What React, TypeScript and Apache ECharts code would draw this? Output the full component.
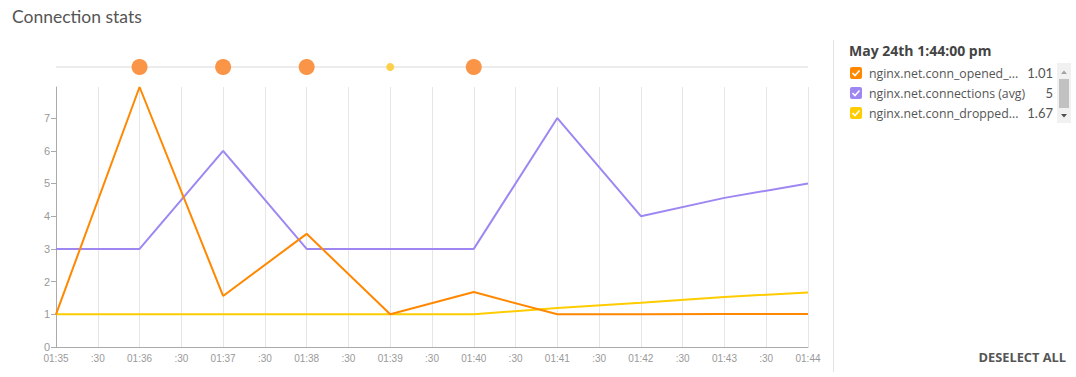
import React, { useEffect, useRef } from "react";
import * as echarts from "echarts";

const TIMES_SEC = [0, 60, 120, 180, 240, 300, 360, 420, 480, 540];
const OPENED = [1, 7.95, 1.56, 3.46, 1.0, 1.68, 1.0, 1.0, 1.01, 1.01];
const CONNECTIONS = [3, 3, 6, 3, 3, 3, 7, 4, 4.56, 5];
const DROPPED = [1, 1, 1, 1, 1, 1, 1.19, 1.35, 1.53, 1.67];
const EVENTS_SEC = [60, 120, 180, 240, 300];
const EVENTS_SIZE = [16, 16, 16, 8, 16];
const EVENTS_COLOR = ["#fa9446", "#fa9446", "#fa9446", "#fdd04a", "#fa9446"];
const Y_TICKS = [0, 1, 2, 3, 4, 5, 6, 7];
const LEGEND_NAMES = ["nginx.net.conn_opened_...", "nginx.net.connections (avg)", "nginx.net.conn_dropped..."];
const LEGEND_VALUES = ["1.01", "5", "1.67"];
const COLORS = ["#ff8800", "#9e87f2", "#ffcc00"];
const HEADER = "May 24th 1:44:00 pm";

const FONT = "'Open Sans', Lato, sans-serif";
const TITLE_FONT = "Lato, 'Noto Sans', sans-serif";

export default function App() {
  const ref = useRef<HTMLDivElement>(null);
  useEffect(() => {
    const chart = echarts.init(ref.current!, undefined, { renderer: "svg" });
    const pairs = (arr: number[]) => arr.map((v, i) => [TIMES_SEC[i], v]);
    const legendGraphics: any[] = [];
    legendGraphics.push({
      type: "line",
      shape: { x1: 833.5, y1: 40, x2: 833.5, y2: 372 },
      style: { stroke: "#e2e2e2", lineWidth: 1 },
    });
    legendGraphics.push({
      type: "text",
      x: 849,
      y: 50,
      style: { text: HEADER, font: `bold 14px ${FONT}`, fill: "#444", verticalAlign: "middle" },
    });
    LEGEND_NAMES.forEach((name, i) => {
      const cy = 73 + i * 20;
      legendGraphics.push({
        type: "rect",
        shape: { x: 850, y: cy - 6, width: 12, height: 12, r: 2 },
        style: { fill: COLORS[i] },
      });
      legendGraphics.push({
        type: "polyline",
        shape: { points: [[852.5, cy], [855, cy + 2.5], [859.5, cy - 2.5]] },
        style: { stroke: "#fff", lineWidth: 1.6, fill: null },
      });
      legendGraphics.push({
        type: "text",
        x: 869,
        y: cy,
        style: { text: name, font: `12.3px ${FONT}`, fill: "#555", verticalAlign: "middle" },
      });
      legendGraphics.push({
        type: "text",
        x: 1053,
        y: cy,
        style: { text: LEGEND_VALUES[i], font: `13px ${TITLE_FONT}`, fill: "#555", verticalAlign: "middle", align: "right" },
      });
    });
    legendGraphics.push(
      { type: "rect", shape: { x: 1057, y: 63, width: 14, height: 60 }, style: { fill: "#f1f1f1" } },
      { type: "rect", shape: { x: 1059, y: 79, width: 10, height: 29 }, style: { fill: "#c1c1c1" } },
      { type: "polygon", shape: { points: [[1061, 74], [1064, 70.5], [1067, 74]] }, style: { fill: "#a3a3a3" } },
      { type: "polygon", shape: { points: [[1061, 114], [1064, 117.5], [1067, 114]] }, style: { fill: "#505050" } },
      {
        type: "text",
        x: 1066,
        y: 357,
        style: { text: "DESELECT ALL", font: `bold 12.8px ${FONT}`, fill: "#555", align: "right", verticalAlign: "middle" },
      },
      {
        type: "text",
        x: 12,
        y: 16,
        style: { text: "Connection stats", font: `17.5px ${TITLE_FONT}`, fill: "#555", verticalAlign: "middle" },
      }
    );

    chart.setOption({
      animation: false,
      grid: [
        { left: 56, right: 268, top: 87, bottom: 30 },
        { left: 56, right: 268, top: 59, height: 16 },
      ],
      xAxis: [
        {
          type: "value",
          gridIndex: 0,
          min: 0,
          max: 540,
          interval: 30,
          axisLine: { show: true, lineStyle: { color: "#aaa", width: 1 } },
          axisTick: { show: false },
          splitLine: { show: true, lineStyle: { color: "#e6e6e6", width: 1 } },
          axisLabel: {
            color: "#999",
            fontSize: 10,
            fontFamily: "'Liberation Sans', Arial, sans-serif",
            margin: 6,
            formatter: (v: number) => (v % 60 === 0 ? "01:" + String(35 + v / 60) : ":30"),
          },
        },
        { type: "value", gridIndex: 1, min: 0, max: 540, show: false },
      ],
      yAxis: [
        {
          type: "value",
          gridIndex: 0,
          min: 0,
          max: "dataMax",
          axisLine: { show: true, lineStyle: { color: "#aaa", width: 1 } },
          axisTick: { show: true, length: 5, lineStyle: { color: "#aaa" }, customValues: Y_TICKS },
          splitLine: { show: false },
          axisLabel: {
            color: "#999",
            fontSize: 11,
            fontFamily: "'Liberation Sans', Arial, sans-serif",
            margin: 6,
            customValues: Y_TICKS,
          },
        },
        { type: "value", gridIndex: 1, min: 0, max: 2, show: false },
      ],
      series: [
        {
          type: "line",
          xAxisIndex: 1,
          yAxisIndex: 1,
          data: [[0, 1], [540, 1]],
          symbol: "none",
          silent: true,
          z: 1,
          lineStyle: { color: "#ececec", width: 2 },
        },
        {
          type: "scatter",
          xAxisIndex: 1,
          yAxisIndex: 1,
          z: 5,
          data: EVENTS_SEC.map((t, i) => ({
            value: [t, 1],
            symbolSize: EVENTS_SIZE[i],
            itemStyle: { color: EVENTS_COLOR[i], opacity: 1 },
          })),
        },
        {
          type: "line",
          name: "dropped",
          data: pairs(DROPPED),
          symbol: "none",
          lineStyle: { color: COLORS[2], width: 2 },
        },
        {
          type: "line",
          name: "connections",
          data: pairs(CONNECTIONS),
          symbol: "none",
          lineStyle: { color: COLORS[1], width: 2 },
        },
        {
          type: "line",
          name: "opened",
          data: pairs(OPENED),
          symbol: "none",
          lineStyle: { color: COLORS[0], width: 2 },
        },
      ],
      graphic: legendGraphics,
    });
    return () => chart.dispose();
  }, []);
  return <div ref={ref} style={{ width: 1076, height: 377, position: "absolute", left: 0, top: 0, background: "#fff" }} />;
}
